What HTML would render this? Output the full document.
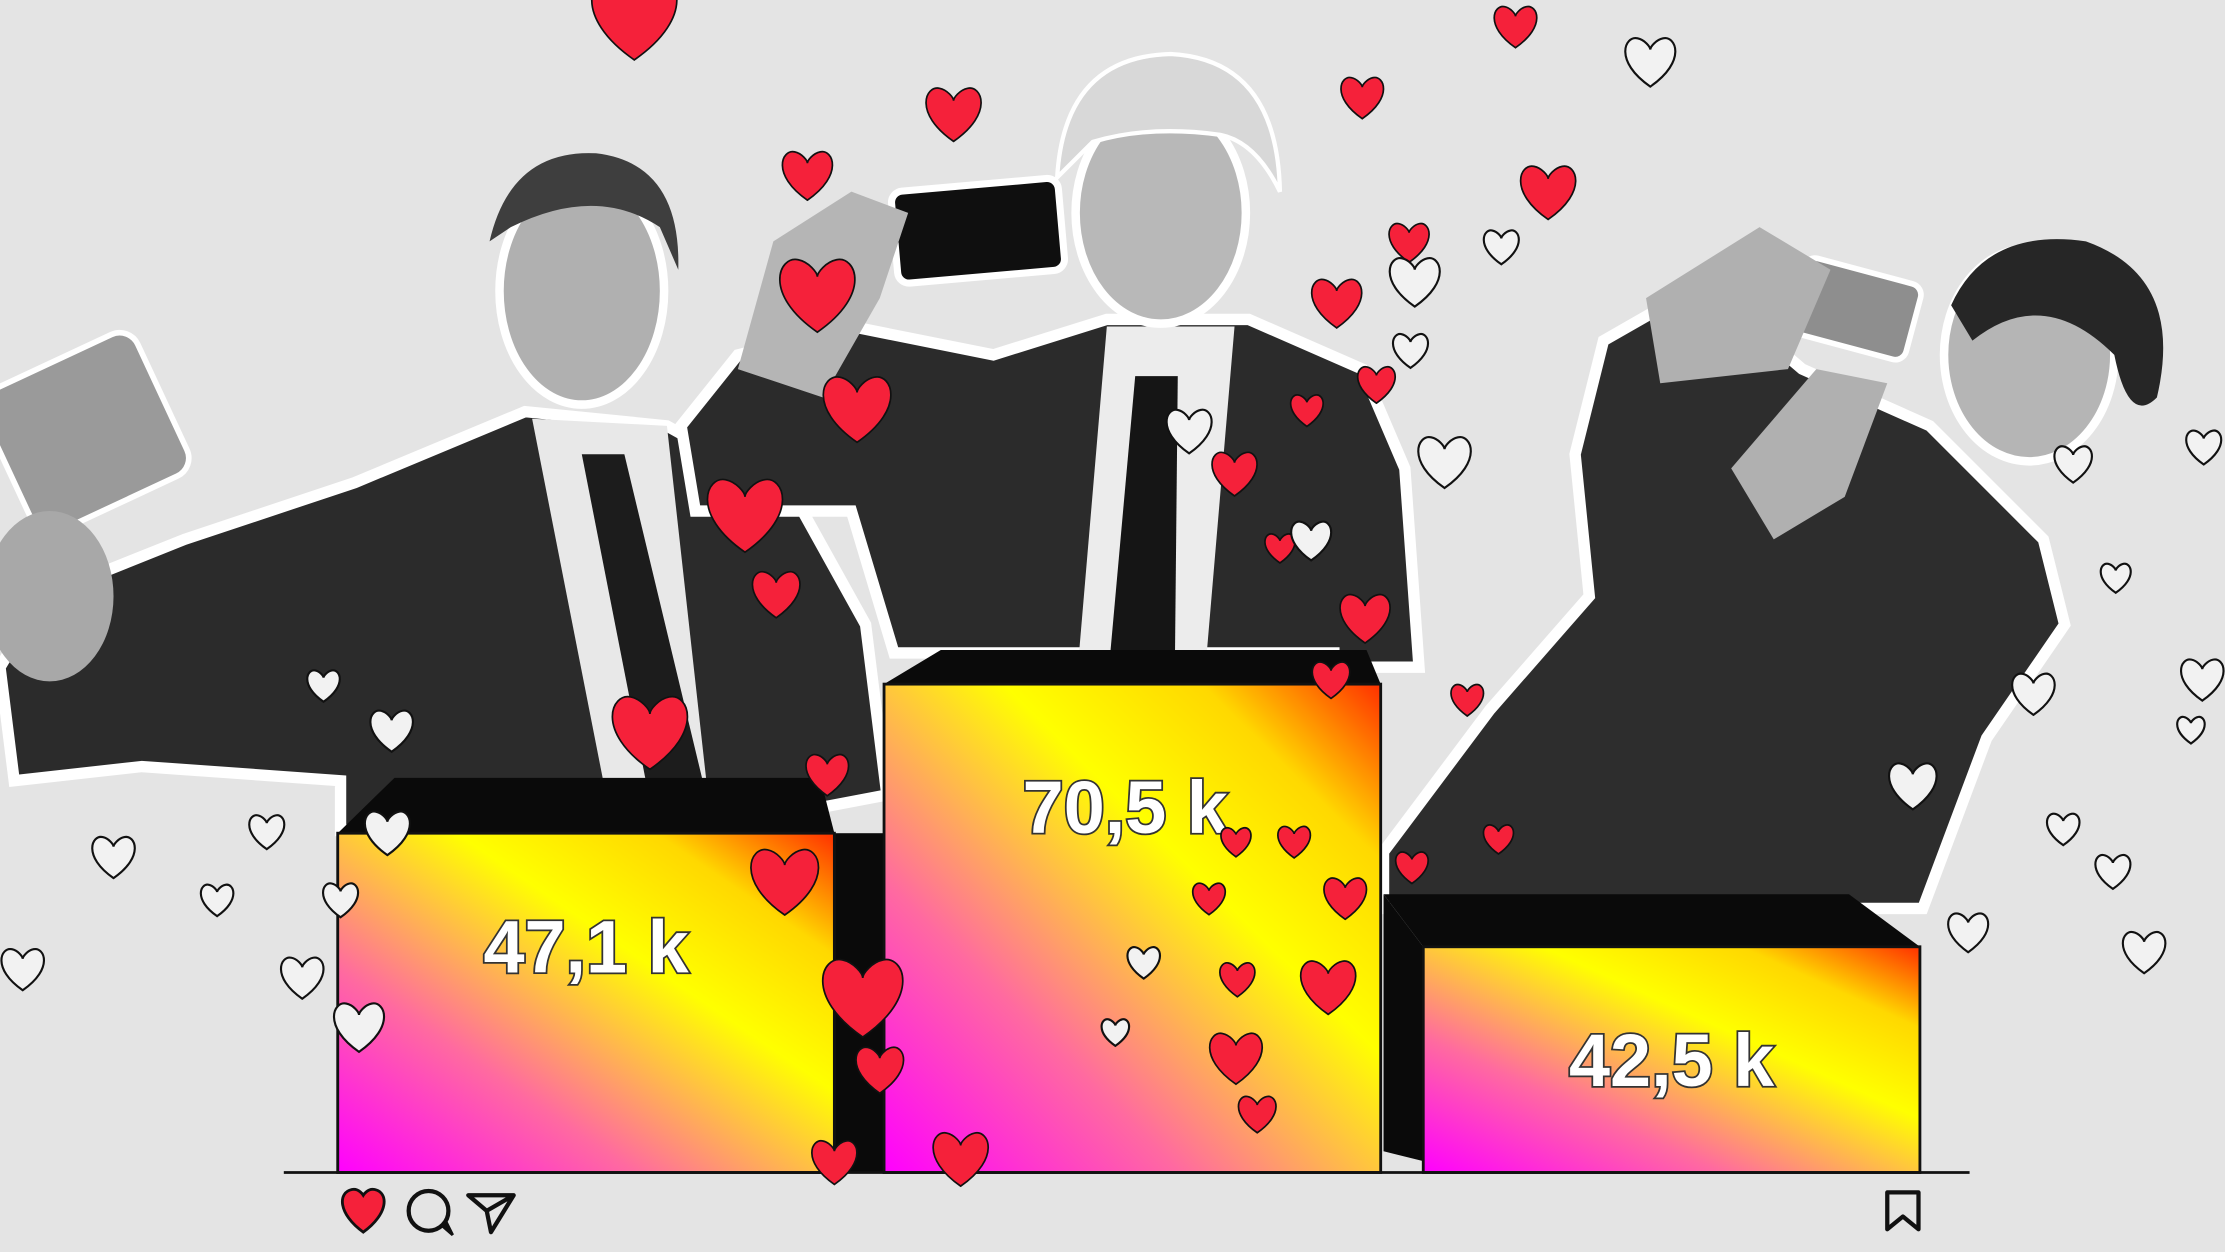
<!DOCTYPE html>
<html><head><meta charset="utf-8"><style>
html,body{margin:0;padding:0;background:#e4e4e4;}
svg{display:block;}
</style></head><body>
<svg id="chart" width="2225" height="1252" viewBox="0 0 1568 882" preserveAspectRatio="none" xmlns="http://www.w3.org/2000/svg">
<defs>
<linearGradient id="grad" x1="0" y1="1" x2="1" y2="0">
<stop offset="0" stop-color="#ff00ff"/>
<stop offset="0.3" stop-color="#ff6aa0"/>
<stop offset="0.62" stop-color="#ffff00"/>
<stop offset="0.82" stop-color="#ffd800"/>
<stop offset="1" stop-color="#ff3000"/>
</linearGradient>
</defs>
<rect x="0" y="0" width="1568" height="882" fill="#e4e4e4"/>
<g id="people">
 <g>
  <path d="M0,470 L30,420 L130,380 L250,340 L370,290 L470,300 L560,350 L610,440 L625,560 L520,580 L240,585 L240,550 L100,540 L10,550 Z" fill="#2b2b2b" stroke="#fff" stroke-width="8"/>
  <path d="M375,295 L470,300 L500,570 L430,575 Z" fill="#e8e8e8"/>
  <path d="M410,320 L440,320 L500,570 L460,575 Z" fill="#1c1c1c"/>
  <ellipse cx="410" cy="205" rx="58" ry="80" fill="#b0b0b0" stroke="#fff" stroke-width="6"/>
  <path d="M345,170 Q360,105 420,108 Q480,115 478,190 L465,160 Q420,130 360,160 Z" fill="#3e3e3e"/>
  <rect x="0" y="250" width="120" height="110" rx="14" fill="#9a9a9a" transform="rotate(-25 60 305)" stroke="#fff" stroke-width="4"/>
  <ellipse cx="35" cy="420" rx="45" ry="60" fill="#a8a8a8"/>
 </g>
 <g>
  <path d="M480,300 L520,250 L600,230 L700,250 L780,225 L880,225 L960,260 L990,330 L1000,470 L940,470 L940,460 L630,460 L600,360 L490,360 Z" fill="#2b2b2b" stroke="#fff" stroke-width="8"/>
  <path d="M780,230 L870,230 L850,465 L760,465 Z" fill="#ececec"/>
  <path d="M800,265 L830,265 L828,465 L782,465 Z" fill="#151515"/>
  <ellipse cx="818" cy="150" rx="60" ry="78" fill="#b8b8b8" stroke="#fff" stroke-width="6"/>
  <path d="M745,125 Q750,40 825,38 Q900,42 902,135 Q885,100 860,95 Q810,88 770,100 Z" fill="#d8d8d8" stroke="#fff" stroke-width="3"/>
  <rect x="630" y="130" width="118" height="65" rx="8" fill="#0f0f0f" stroke="#fff" stroke-width="5" transform="rotate(-5 690 160)"/>
  <path d="M520,260 L545,170 L600,135 L640,150 L620,210 L580,280 Z" fill="#b5b5b5"/>
 </g>
 <g>
  <path d="M975,600 L1050,500 L1120,420 L1110,320 L1130,240 L1200,200 L1270,260 L1360,300 L1440,380 L1455,440 L1400,520 L1355,640 L1003,640 L975,640 Z" fill="#2d2d2d" stroke="#fff" stroke-width="8"/>
  <ellipse cx="1430" cy="250" rx="60" ry="75" fill="#b5b5b5" stroke="#fff" stroke-width="6"/>
  <path d="M1375,215 Q1400,160 1470,170 Q1540,195 1520,280 Q1500,300 1490,250 Q1440,200 1390,240 Z" fill="#262626"/>
  <rect x="1265" y="190" width="85" height="55" rx="8" fill="#8e8e8e" stroke="#fff" stroke-width="4" transform="rotate(15 1307 217)"/>
  <path d="M1160,210 L1240,160 L1290,190 L1260,260 L1170,270 Z" fill="#b0b0b0"/>
  <path d="M1220,330 L1280,260 L1330,270 L1300,350 L1250,380 Z" fill="#b0b0b0"/>
 </g>
</g>
<g id="bars"></g>
<line x1="200" y1="826" x2="1388" y2="826" stroke="#111" stroke-width="2"/>
<g id="hearts"></g>
<g>
 <path d="M256,868 C238,855 238,840 248,838 C253,837 256,842 256,842 C256,842 259,837 264,838 C274,840 274,855 256,868 Z" fill="#f5213a" stroke="#111" stroke-width="2"/>
 <g><circle cx="302" cy="853" r="14" fill="none" stroke="#111" stroke-width="3"/><path d="M311,863 L319,870 L314,860" fill="#111" stroke="#111" stroke-width="2"/></g>
 <path d="M330,842 L362,842 L346,868 L343,853 Z M343,853 L362,842" fill="none" stroke="#111" stroke-width="3" stroke-linejoin="round"/>
 <path d="M1330,840 L1352,840 L1352,866 L1341,857 L1330,866 Z" fill="none" stroke="#111" stroke-width="3" stroke-linejoin="round"/>
</g>
</svg>
<script>
const categories = ["Rutte", "Wilders", "Klaver"];
const values = [47.1, 70.5, 42.5];
const labels = ["47,1 k", "70,5 k", "42,5 k"];
const NS = "http://www.w3.org/2000/svg";
const baseY = 826;
const xLeft = [238, 623, 1003];
const barW = 350;
function yHeight(v){ return -0.4609 * v * v + 58.69 * v - 1502.8; }
const bars = document.getElementById('bars');
function mk(tag, attrs, parent){ const e = document.createElementNS(NS, tag); for (const k in attrs) e.setAttribute(k, attrs[k]); parent.appendChild(e); return e; }
values.forEach((v, i) => {
  const h = yHeight(v);
  const x = xLeft[i], top = baseY - h;
  const g = mk('g', {}, bars);
  
  
  let topPts;
  if (i === 2) topPts = `${x-28},${top-37} ${x+barW-50},${top-37} ${x+barW},${top} ${x},${top}`;
  else topPts = `${x},${top} ${x+barW},${top} ${x+barW-10},${top-(i===1?24:39)} ${x+40},${top-(i===1?24:39)}`;
  const t = mk('polygon', {points: topPts, fill: '#0a0a0a'}, g);
  
  
  if (i === 0) { const s = mk('rect', {x: x+barW, y: top, width: 35, height: h, fill: '#0a0a0a'}, g);   }
  if (i === 2) { const s = mk('polygon', {points: `${x-28},${top-37} ${x},${top} ${x},${baseY-8} ${x-28},${baseY-15}`, fill: '#0a0a0a'}, g);   }
  const r = mk('rect', {x: x, y: top, width: barW, height: h, fill: 'url(#grad)', stroke: '#111', 'stroke-width': 2}, g);
  
  
  const ty = i === 1 ? top + 105 : top + 98;
  const tx = mk('text', {x: x + barW/2 - (i===1?5:0), y: ty, 'text-anchor': 'middle', 'font-family': 'Liberation Sans, sans-serif', 'font-weight': 'bold', 'font-size': 52, fill: '#fff', stroke: '#333', 'stroke-width': 2.5, 'paint-order': 'stroke'}, g);
  tx.textContent = labels[i];
  
  
});
const heartsList = [[447,15,34,1],[672,82,22,1],[569,125,20,1],[576,210,30,1],[604,290,27,1],[525,365,30,1],[547,420,19,1],[458,518,30,1],[583,547,17,1],[553,623,27,1],[608,705,32,1],[620,755,19,1],[588,820,18,1],[677,818,22,1],[960,70,17,1],[1068,20,17,1],[1091,137,22,1],[993,172,16,1],[942,215,20,1],[970,272,15,1],[921,290,13,1],[870,335,18,1],[902,387,12,1],[962,437,20,1],[938,480,15,1],[1034,494,13,1],[995,612,13,1],[1056,592,12,1],[871,594,12,1],[912,594,13,1],[852,634,13,1],[948,634,17,1],[872,691,14,1],[936,697,22,1],[871,747,21,1],[886,786,15,1],
[1163,45,20,0],[1058,175,14,0],[997,200,20,0],[994,248,14,0],[838,305,18,0],[1018,327,21,0],[924,382,16,0],[1461,328,15,0],[1553,316,14,0],[1491,408,12,0],[1433,490,17,0],[1552,480,17,0],[1544,515,11,0],[1348,555,19,0],[1454,585,13,0],[1489,615,14,0],[1387,658,16,0],[1511,672,17,0],[228,484,13,0],[276,516,17,0],[188,587,14,0],[80,605,17,0],[153,635,13,0],[273,588,18,0],[240,635,14,0],[213,690,17,0],[253,725,20,0],[16,684,17,0],[806,679,13,0],[786,728,11,0]];
const hg = document.getElementById('hearts');
heartsList.forEach(hh => {
  const [cx, cy, s, red] = hh;
  const k = s/20;
  const d = `M${cx},${cy+16*k} C${cx-26*k},${cy-2*k} ${cx-18*k},${cy-20*k} ${cx-9*k},${cy-18*k} C${cx-4*k},${cy-17*k} ${cx},${cy-12*k} ${cx},${cy-10*k} C${cx},${cy-12*k} ${cx+4*k},${cy-17*k} ${cx+9*k},${cy-18*k} C${cx+18*k},${cy-20*k} ${cx+26*k},${cy-2*k} ${cx},${cy+16*k} Z`;
  const p = mk('path', {d: d, fill: red ? '#f5213a' : '#f2f2f2', stroke: '#111', 'stroke-width': red ? 1.2 : 1.5}, hg);
  
  
});
</script>
</body></html>
